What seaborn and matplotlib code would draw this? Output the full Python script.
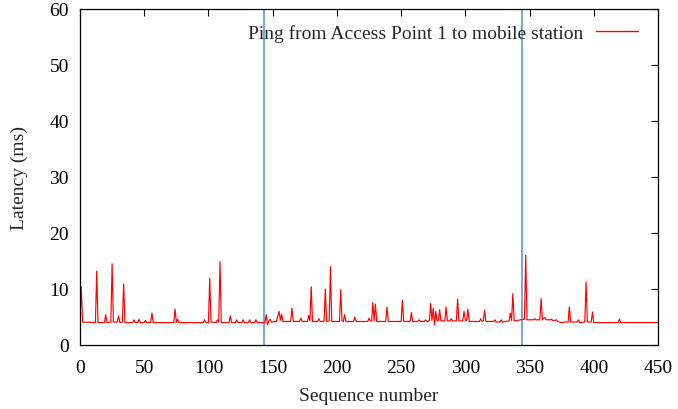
import matplotlib
matplotlib.use("Agg")
import matplotlib.pyplot as plt
import seaborn as sns
import pandas as pd

# Breakpoints of the ping latency trace (sequence number, latency in ms)
seq = [0, 1, 2, 12, 13, 14, 19, 20, 21, 24, 25, 26, 29, 30, 31, 33, 34, 35,
       41, 42, 43, 45, 46, 47, 50, 51, 52, 55, 56, 57, 73, 74, 75, 76, 77,
       96, 97, 98, 100, 101, 102, 106, 107, 108, 109, 110, 116, 117, 118,
       121, 122, 123, 126, 127, 128, 131, 132, 133, 136, 137, 138,
       144, 145, 146, 147, 148, 149, 153, 154, 155, 156, 157, 158,
       164, 165, 166, 171, 172, 173, 177, 178, 179, 180, 181,
       185, 186, 187, 190, 191, 192, 194, 195, 196, 202, 203, 204, 205, 206, 207,
       213, 214, 215, 224, 225, 226, 227, 228, 229, 230, 231, 238, 239, 240,
       250, 251, 252, 257, 258, 259, 263, 264, 265, 268, 269, 270,
       272, 273, 274, 275, 276, 277, 278, 279, 280, 281, 284, 285, 286,
       288, 289, 290, 293, 294, 295, 298, 299, 300, 301, 302, 303,
       311, 312, 313, 314, 315, 316, 322, 323, 324, 327, 328, 329,
       334, 335, 336, 337, 338, 346, 347, 348, 353, 354, 355, 358, 359, 360,
       361, 362, 363, 366, 367, 368, 370, 371, 372, 375, 376, 377,
       380, 381, 382, 387, 388, 389, 393, 394, 395, 398, 399, 400,
       419, 420, 421, 450]
latency = [4.1, 10.4, 4.1, 4.0, 13.2, 4.0, 4.0, 5.4, 4.0, 4.1, 14.5, 4.1, 4.1, 5.2, 4.0, 4.1, 10.9, 4.0,
           4.0, 4.5, 4.0, 4.0, 4.6, 4.0, 4.0, 4.4, 4.0, 4.0, 5.7, 4.0, 4.0, 6.4, 4.1, 4.6, 4.0,
           4.0, 4.5, 4.0, 4.0, 11.9, 4.1, 4.0, 4.5, 4.1, 14.9, 4.0, 4.0, 5.2, 4.0,
           4.0, 4.5, 4.0, 4.0, 4.5, 4.0, 4.0, 4.5, 4.0, 4.0, 4.5, 4.0,
           4.0, 5.4, 3.6, 4.3, 4.6, 4.1, 4.2, 5.2, 6.0, 4.4, 5.5, 4.2,
           4.2, 6.6, 4.2, 4.2, 4.8, 4.2, 4.2, 5.3, 4.3, 10.4, 4.2,
           4.2, 4.7, 4.2, 4.2, 10.0, 4.2, 4.3, 14.0, 4.2, 4.2, 9.9, 4.3, 4.2, 5.4, 4.2,
           4.2, 5.0, 4.2, 4.2, 4.8, 4.3, 4.3, 7.6, 4.3, 7.3, 4.2, 4.2, 6.8, 4.2,
           4.2, 8.0, 4.2, 4.2, 5.8, 4.2, 4.2, 4.5, 4.2, 4.2, 4.5, 4.2,
           4.3, 7.4, 4.4, 6.6, 3.6, 6.0, 4.3, 4.4, 6.3, 4.3, 4.3, 6.8, 4.3,
           4.3, 4.7, 4.3, 4.3, 8.2, 4.3, 4.3, 6.0, 4.4, 4.4, 6.4, 4.2,
           4.2, 4.7, 4.2, 4.3, 6.2, 4.2, 4.2, 4.5, 4.1, 4.1, 4.5, 4.1,
           4.3, 5.7, 4.4, 9.2, 4.3, 4.6, 16.0, 4.5, 4.5, 4.7, 4.5, 4.5, 8.3, 4.5,
           4.8, 4.9, 4.5, 4.5, 4.6, 4.4, 4.4, 4.5, 4.2, 4.0, 4.0, 4.1,
           4.1, 6.8, 4.1, 4.1, 4.5, 4.0, 4.1, 11.2, 4.1, 4.1, 5.9, 4.0,
           4.0, 4.6, 4.0, 4.0]
handover_seq = [143, 344]
x_ticks = [0, 50, 100, 150, 200, 250, 300, 350, 400, 450]
y_ticks = [0, 10, 20, 30, 40, 50, 60]

sns.set_style("white")
plt.rcParams["font.family"] = ["Liberation Serif", "DejaVu Serif"]

FS = 14

df = pd.DataFrame({"Sequence number": seq, "Latency (ms)": latency})

fig = plt.figure(figsize=(6.78, 4.10), dpi=100)
ax = fig.add_axes([80 / 678, 1 - 346 / 410, 578 / 678, 336 / 410])

for hx in handover_seq:
    ax.axvline(hx, color="#5b9bd5", linewidth=1.2, zorder=1)

sns.lineplot(data=df, x="Sequence number", y="Latency (ms)", ax=ax,
             color="#ff0000", linewidth=0.85,
             label="Ping from Access Point 1 to mobile station", zorder=2)

ax.set_xlim(0, 450)
ax.set_ylim(0, 60)
ax.set_xticks(x_ticks)
ax.set_yticks(y_ticks)
ax.tick_params(direction="in", length=5, width=0.8, top=True, right=True,
               labelsize=FS, colors="black")
ax.tick_params(axis="x", pad=10)
ax.tick_params(axis="y", pad=8)
for s in ax.spines.values():
    s.set_color("black")
    s.set_linewidth(0.9)
ax.set_xlabel("Sequence number", fontsize=FS, labelpad=8)
ax.set_ylabel("Latency (ms)", fontsize=FS, labelpad=15)

leg = ax.legend(loc="upper right", frameon=False, markerfirst=False,
                fontsize=FS, handlelength=2.15, handletextpad=0.67,
                borderaxespad=0.0, borderpad=0.0,
                bbox_to_anchor=(1 - 20 / 578, 1 - 15 / 336))
for h in leg.get_lines():
    h.set_color("#ff0000")
    h.set_linewidth(1.0)

fig.savefig("out.png", dpi=100)
